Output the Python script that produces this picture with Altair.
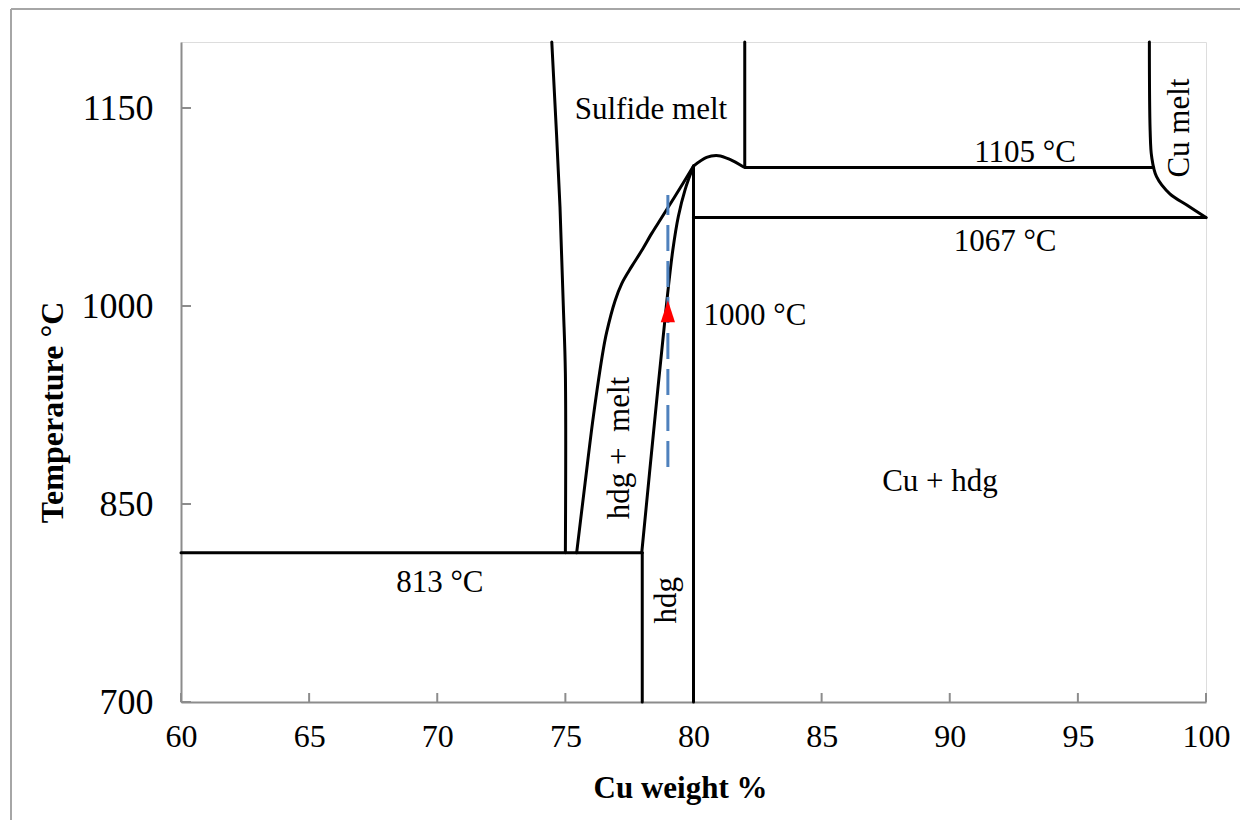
import altair as alt
import pandas as pd

# ---------------- data ----------------
x_ticks = [60, 65, 70, 75, 80, 85, 90, 95, 100]
y_ticks = [700, 850, 1000, 1150]

# phase boundaries
iso813_x = [60, 78]
iso813_y = [813, 813]

hdg_left_x = [78, 78]
hdg_left_y = [700, 813]

hdg_solidus_x = [77.98, 78.5, 78.95, 79.19, 79.41, 79.67, 80.0]
hdg_solidus_y = [813, 916, 1002, 1042, 1068, 1088, 1106]

hdg_liquidus_x = [75.44, 75.77, 76.09, 76.48, 76.61, 76.94, 77.20, 77.59, 77.98, 78.37, 78.76, 79.34, 80.0]
hdg_liquidus_y = [813, 866, 916, 967, 980, 1004, 1017, 1030, 1042, 1055, 1067, 1085, 1106]

sulfide_left_x = [74.47, 74.79, 74.92, 75.0, 75.0]
sulfide_left_y = [1200, 1075, 1000, 949, 813]

cu80_x = [80, 80]
cu80_y = [700, 1106]

dome_x = [80.0, 80.51, 80.97, 81.42, 81.94]
dome_y = [1106, 1112.6, 1113.9, 1111.1, 1105.5]

v82_x = [82, 82]
v82_y = [1105.5, 1200]

iso1105_x = [82, 97.95]
iso1105_y = [1105, 1105]

cu_liquidus_x = [97.79, 97.82, 97.88, 98.07, 98.59, 99.25, 100.0]
cu_liquidus_y = [1200, 1133, 1113, 1098, 1085, 1076.5, 1067]

iso1067_x = [80, 100]
iso1067_y = [1067, 1067]

# blue dashed composition line and red marker
dash_x = [79, 79]
dash_y = [878, 1084]
marker_x = [79]
marker_y = [996]

# labels
label_text = ["Sulfide melt", "1105 °C", "1067 °C", "1000 °C", "Cu + hdg",
              "813 °C", "hdg + \u00a0melt", "hdg", "Cu melt"]
label_x = [78.34, 92.94, 92.16, 82.4, 89.62, 70.1, 77.13, 78.97, 98.99]
label_y = [1148.5, 1115.9, 1048.5, 992.4, 866.7, 790, 892.4, 777, 1134.8]
label_angle = [0, 0, 0, 0, 0, 0, 270, 270, 270]

# ---------------- tables ----------------
segments = {
    "iso813": (iso813_x, iso813_y),
    "hdg_left": (hdg_left_x, hdg_left_y),
    "hdg_solidus": (hdg_solidus_x, hdg_solidus_y),
    "hdg_liquidus": (hdg_liquidus_x, hdg_liquidus_y),
    "sulfide_left": (sulfide_left_x, sulfide_left_y),
    "cu80": (cu80_x, cu80_y),
    "dome": (dome_x, dome_y),
    "v82": (v82_x, v82_y),
    "iso1105": (iso1105_x, iso1105_y),
    "cu_liquidus": (cu_liquidus_x, cu_liquidus_y),
    "iso1067": (iso1067_x, iso1067_y),
}
rows = []
for name, (xs, ys) in segments.items():
    for i, (xv, yv) in enumerate(zip(xs, ys)):
        rows.append({"seg": name, "ord": i, "x": xv, "y": yv})
lines_df = pd.DataFrame(rows)

dash_df = pd.DataFrame({"x": dash_x, "y": dash_y, "ord": [0, 1]})
marker_df = pd.DataFrame({"x": marker_x, "y": marker_y})
labels_df = pd.DataFrame({"text": label_text, "x": label_x, "y": label_y, "angle": label_angle})
xtick_df = pd.DataFrame({"x": x_ticks})
ytick_df = pd.DataFrame({"y": y_ticks})
frame_df = pd.DataFrame({"a": [0]})

FONT = "Liberation Serif"
AXIS_GRAY = "#8c8c8c"
FRAME_GRAY = "#a6a6a6"

xscale = alt.Scale(domain=[60, 100], nice=False, zero=False)
yscale = alt.Scale(domain=[700, 1200], nice=False, zero=False)

xaxis = alt.Axis(values=x_ticks, format="d", title="Cu weight %", ticks=False, grid=False,
                 labelFontSize=32, labelPadding=19, labelFlush=False, labelColor="black",
                 labelFont=FONT, titleFont=FONT, titleFontSize=31, titleFontWeight="bold",
                 titleColor="black", titleX=499, titleY=95, titleBaseline="alphabetic",
                 titleAlign="center", domainColor=AXIS_GRAY, domainWidth=2)
yaxis = alt.Axis(values=y_ticks, format="d", title="Temperature °C", ticks=False, grid=False,
                 labelFontSize=36, labelPadding=28, labelFlush=False, labelColor="black",
                 labelFont=FONT, titleFont=FONT, titleFontSize=32, titleFontWeight="bold",
                 titleColor="black", titleX=-119, titleY=370, titleAngle=270,
                 titleBaseline="alphabetic", titleAlign="center",
                 domainColor=AXIS_GRAY, domainWidth=2)

X = alt.X("x:Q", scale=xscale, axis=xaxis)
Y = alt.Y("y:Q", scale=yscale, axis=yaxis)

lines = alt.Chart(lines_df).mark_line(
    color="black", strokeWidth=3, interpolate="catmull-rom", strokeCap="round", strokeJoin="round"
).encode(x=X, y=Y, detail="seg:N", order="ord:Q")

dashed = alt.Chart(dash_df).mark_line(
    color="#4f81bd", strokeWidth=3, strokeDash=[26, 10]
).encode(x=X, y=Y, order="ord:Q")

marker = alt.Chart(marker_df).mark_point(
    shape="M -0.65 1 L 0 -1 L 0.65 1 Z", filled=True, color="#ff0000", opacity=1, size=480
).encode(x=X, y=Y)

labels = alt.Chart(labels_df).mark_text(
    font=FONT, fontSize=31, color="black", align="center", baseline="middle"
).encode(x=X, y=Y, text="text:N", angle=alt.Angle("angle:Q", scale=None))

xticks_layer = alt.Chart(xtick_df).mark_rule(color=AXIS_GRAY, strokeWidth=2).encode(
    x=X, y=alt.value(660), y2=alt.value(651))
yticks_layer = alt.Chart(ytick_df).mark_rule(color=AXIS_GRAY, strokeWidth=2).encode(
    y=Y, x=alt.value(0), x2=alt.value(10))

# decorative outer frame: only its left and top edges fall inside the picture
frame_left = alt.Chart(frame_df).mark_rule(color=FRAME_GRAY, strokeWidth=2).encode(
    x=alt.value(-170), y=alt.value(-33), y2=alt.value(900))
frame_top = alt.Chart(frame_df).mark_rule(color=FRAME_GRAY, strokeWidth=2).encode(
    x=alt.value(-170), x2=alt.value(1200), y=alt.value(-33))

chart = alt.layer(frame_left, frame_top, xticks_layer, yticks_layer, lines, dashed, marker, labels).properties(
    width=1025, height=660,
    autosize=alt.AutoSizeParams(type="none"),
    padding={"left": 173, "top": 34, "right": 34, "bottom": 118},
).configure_view(stroke="#c0c0c0", strokeWidth=2).configure(background="white")

chart.save("out.html", embed_options={"renderer": "svg", "actions": False})
